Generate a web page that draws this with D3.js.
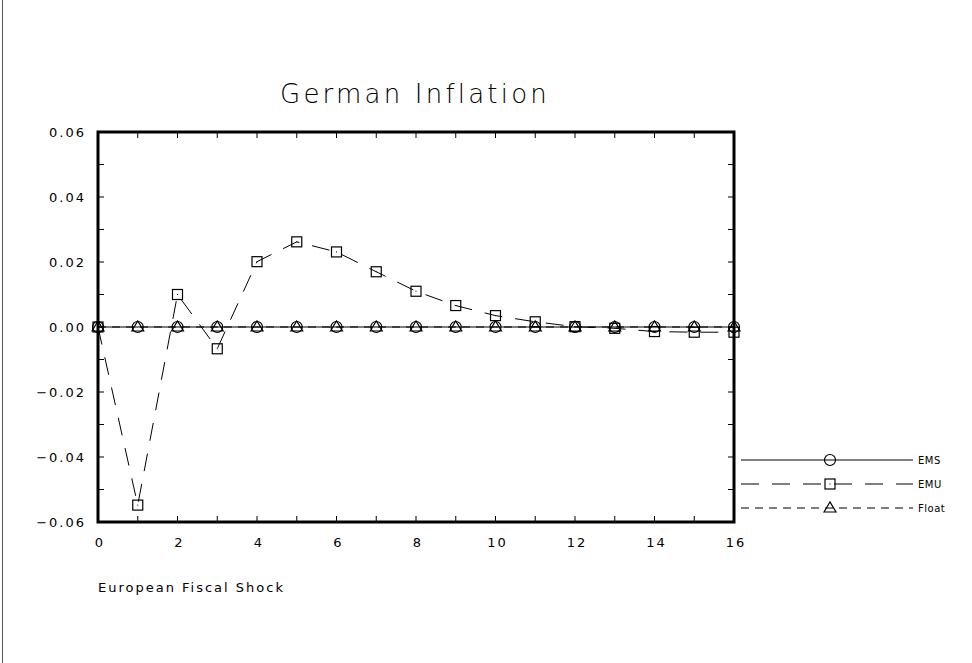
<!DOCTYPE html>
<html><head><meta charset="utf-8">
<script src="https://cdn.jsdelivr.net/npm/d3@7"></script>
<style>body{margin:0;background:#fff}svg{display:block}</style>
</head><body>
<svg id="c" width="972" height="663"></svg>
<script>
const periods = [0,1,2,3,4,5,6,7,8,9,10,11,12,13,14,15,16];
const emsValues = [0,0,0,0,0,0,0,0,0,0,0,0,0,0,0,0,0];
const emuValues = [0,-0.0548,0.0100,-0.0067,0.0201,0.0262,0.0231,0.0170,0.0110,0.0066,0.0035,0.0016,0.0001,-0.0004,-0.0014,-0.0016,-0.0016];
const floatValues = [0,0,0,0,0,0,0,0,0,0,0,0,0,0,0,0,0];
const xTickLabels = [0,2,4,6,8,10,12,14,16];
const yTickLabels = ["0.06","0.04","0.02","0.00","\u22120.02","\u22120.04","\u22120.06"];
const yTickValues = [0.06,0.04,0.02,0,-0.02,-0.04,-0.06];
const yMinorValues = [0.05,0.03,0.01,-0.01,-0.03,-0.05];
const seriesNames = ["EMS","EMU","Float"];

const svg = d3.select("#c");
const font = "'DejaVu Sans', sans-serif";
const L=98, R=734, T=132, B=522;
const x = d3.scaleLinear().domain([0,16]).range([L,R]);
const y = d3.scaleLinear().domain([-0.06,0.06]).range([B,T]);

svg.append("line").attr("x1",2.5).attr("x2",2.5).attr("y1",0).attr("y2",663).attr("stroke","#555").attr("stroke-width",1);

svg.append("text").attr("x",415).attr("y",103).attr("text-anchor","middle")
  .attr("font-family",font).attr("font-weight",200).attr("font-size",26).attr("letter-spacing",3.2)
  .text("German Inflation");

const g = svg.append("g");
periods.forEach(p=>{
  g.append("line").attr("x1",x(p)).attr("x2",x(p)).attr("y1",T).attr("y2",T+6).attr("stroke","#000");
  g.append("line").attr("x1",x(p)).attr("x2",x(p)).attr("y1",B).attr("y2",B-6).attr("stroke","#000");
});
yTickValues.concat(yMinorValues).forEach(v=>{
  g.append("line").attr("x1",L).attr("x2",L+6).attr("y1",y(v)).attr("y2",y(v)).attr("stroke","#000");
  g.append("line").attr("x1",R).attr("x2",R-6).attr("y1",y(v)).attr("y2",y(v)).attr("stroke","#000");
});
xTickLabels.forEach(v=>{
  g.append("text").attr("x",x(v)+2).attr("y",547).attr("text-anchor","middle")
   .attr("font-family",font).attr("font-size",13).attr("letter-spacing",2).text(v);
});
yTickValues.forEach((v,i)=>{
  g.append("text").attr("x",86).attr("y",y(v)+5).attr("text-anchor","end")
   .attr("font-family",font).attr("font-size",13).attr("letter-spacing",2).text(yTickLabels[i]);
});

const line = d3.line().x((d,i)=>x(periods[i])).y(d=>y(d));
svg.append("path").datum(emsValues).attr("d",line).attr("fill","none").attr("stroke","#000").attr("stroke-width",1.2);
svg.append("path").datum(floatValues).attr("d",line).attr("fill","none").attr("stroke","#000").attr("stroke-width",1).attr("stroke-dasharray","8,6");
svg.append("path").datum(emuValues).attr("d",line).attr("fill","none").attr("stroke","#000").attr("stroke-width",1).attr("stroke-dasharray","18,13");

function circle(sel,cx,cy){sel.append("circle").attr("cx",cx).attr("cy",cy).attr("r",5.5).attr("fill","none").attr("stroke","#000").attr("stroke-width",1.2);}
function square(sel,cx,cy){sel.append("rect").attr("x",cx-5).attr("y",cy-5).attr("width",10).attr("height",10).attr("fill","none").attr("stroke","#000").attr("stroke-width",1.2);
  sel.append("rect").attr("x",cx-0.5).attr("y",cy-0.5).attr("width",1).attr("height",1).attr("fill","#000");}
function tri(sel,cx,cy){sel.append("path").attr("d",`M${cx-6},${cy+4}L${cx},${cy-6}L${cx+6},${cy+4}Z`).attr("fill","none").attr("stroke","#000").attr("stroke-width",1.2);}

const m = svg.append("g");
emsValues.forEach((v,i)=>circle(m,x(periods[i]),y(v)));
floatValues.forEach((v,i)=>tri(m,x(periods[i]),y(v)));
emuValues.forEach((v,i)=>square(m,x(periods[i]),y(v)));

svg.append("rect").attr("x",L).attr("y",T).attr("width",R-L).attr("height",B-T).attr("fill","none").attr("stroke","#000").attr("stroke-width",3);

const lg = svg.append("g");
const rows=[460,484,508];
const dashes=[null,"18,13","8,6"];
rows.forEach((ry,i)=>{
  lg.append("line").attr("x1",741).attr("x2",913).attr("y1",ry).attr("y2",ry).attr("stroke","#000").attr("stroke-width",1).attr("stroke-dasharray",dashes[i]);
  if(i===0) circle(lg,830,ry); else if(i===1) square(lg,830,ry); else tri(lg,830,ry);
  lg.append("text").attr("x",918).attr("y",ry+4).attr("font-family",font).attr("font-size",10).attr("letter-spacing",0.5).text(seriesNames[i]);
});

svg.append("text").attr("x",98).attr("y",592).attr("font-family",font).attr("font-size",13).attr("letter-spacing",2).text("European Fiscal Shock");
</script>
</body></html>
